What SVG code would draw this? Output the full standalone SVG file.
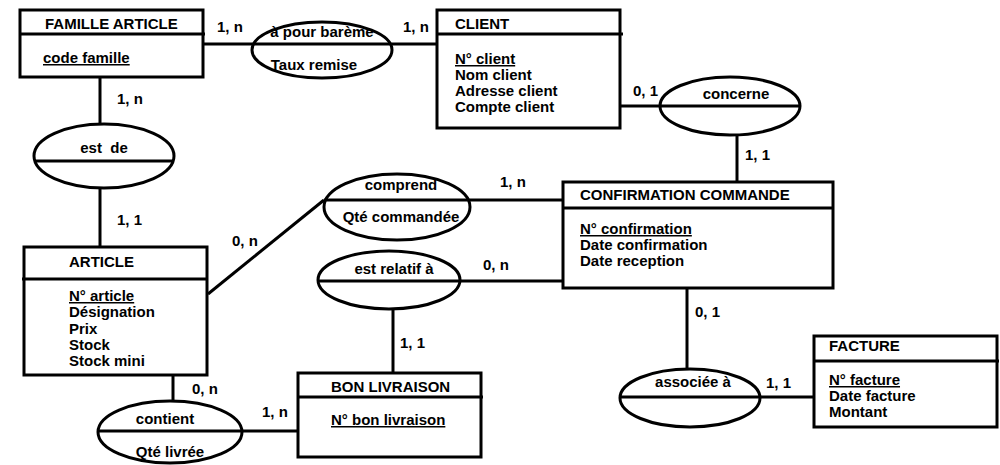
<svg xmlns="http://www.w3.org/2000/svg" width="1000" height="465" viewBox="0 0 1000 465">
<style>
rect,ellipse{fill:#fff;stroke:#000;stroke-width:3}
rect.bg{stroke:none}
line{stroke:#000;stroke-width:3}
text{font-family:"Liberation Sans",Arial,sans-serif;font-weight:bold;font-size:15px;fill:#000}
.c{text-anchor:middle}
.u{text-decoration:underline}
</style>
<rect class="bg" width="1000" height="465"/>
<g id="connectors">
<line x1="203" y1="44" x2="252" y2="44"/>
<line x1="392" y1="44" x2="437" y2="44"/>
<line x1="100" y1="77" x2="100" y2="124"/>
<line x1="100" y1="188" x2="100" y2="247"/>
<line x1="208" y1="294" x2="324" y2="200"/>
<line x1="470" y1="200" x2="563" y2="200"/>
<line x1="620" y1="106" x2="660" y2="106"/>
<line x1="737" y1="135" x2="737" y2="182"/>
<line x1="460" y1="281" x2="563" y2="281"/>
<line x1="393" y1="309" x2="393" y2="373"/>
<line x1="173" y1="375" x2="173" y2="401"/>
<line x1="242" y1="431" x2="298" y2="431"/>
<line x1="687" y1="288" x2="687" y2="369"/>
<line x1="760" y1="397" x2="814" y2="397"/>
<text x="217" y="32">1, n</text>
<text x="403" y="32">1, n</text>
<text x="117" y="104">1, n</text>
<text x="117" y="225">1, 1</text>
<text x="232" y="246">0, n</text>
<text x="500" y="187">1, n</text>
<text x="633" y="96">0, 1</text>
<text x="745" y="160">1, 1</text>
<text x="483" y="270">0, n</text>
<text x="400" y="348">1, 1</text>
<text x="192" y="394">0, n</text>
<text x="262" y="417">1, n</text>
<text x="695" y="317">0, 1</text>
<text x="766" y="388">1, 1</text>
</g>
<g id="famille-article">
<rect x="20" y="10" width="183" height="67"/>
<line x1="20" y1="34" x2="205" y2="34"/>
<text x="45" y="29">FAMILLE ARTICLE</text>
<text x="43" y="63" class="u">code famille</text>
</g>
<g id="a-pour-bareme">
<ellipse cx="322" cy="50" rx="70" ry="28"/>
<line x1="252" y1="44" x2="392" y2="44"/>
<text x="322" y="37" class="c">à pour barème</text>
<text x="314" y="70" class="c">Taux remise</text>
</g>
<g id="client">
<rect x="437" y="10" width="183" height="118"/>
<line x1="437" y1="34" x2="623" y2="34"/>
<text x="455" y="29">CLIENT</text>
<text x="455" y="64" class="u">N° client</text>
<text x="455" y="80">Nom client</text>
<text x="455" y="96">Adresse client</text>
<text x="455" y="112">Compte client</text>
</g>
<g id="concerne">
<ellipse cx="730" cy="106" rx="70" ry="29"/>
<line x1="660" y1="106" x2="800" y2="106"/>
<text x="736" y="99" class="c">concerne</text>
</g>
<g id="est-de">
<ellipse cx="104" cy="156" rx="70" ry="32"/>
<line x1="34" y1="161" x2="174" y2="161"/>
<text x="104" y="153" class="c" xml:space="preserve">est  de</text>
</g>
<g id="comprend">
<ellipse cx="397" cy="207" rx="73" ry="33"/>
<line x1="324" y1="200" x2="470" y2="200"/>
<text x="401" y="190" class="c">comprend</text>
<text x="401" y="222" class="c">Qté commandée</text>
</g>
<g id="confirmation-commande">
<rect x="563" y="182" width="270" height="106"/>
<line x1="563" y1="208" x2="833" y2="208"/>
<text x="580" y="200">CONFIRMATION COMMANDE</text>
<text x="580" y="234" class="u">N° confirmation</text>
<text x="580" y="250">Date confirmation</text>
<text x="580" y="266">Date reception</text>
</g>
<g id="article">
<rect x="24" y="247" width="183" height="128"/>
<line x1="22" y1="279" x2="207" y2="279"/>
<text x="69" y="267">ARTICLE</text>
<text x="69" y="301" class="u">N° article</text>
<text x="69" y="317">Désignation</text>
<text x="69" y="334">Prix</text>
<text x="69" y="350">Stock</text>
<text x="69" y="366">Stock mini</text>
</g>
<g id="est-relatif-a">
<ellipse cx="389" cy="280" rx="71" ry="29"/>
<line x1="318" y1="281" x2="460" y2="281"/>
<text x="394" y="274" class="c">est relatif à</text>
</g>
<g id="bon-livraison">
<rect x="298" y="373" width="183" height="84"/>
<line x1="298" y1="397" x2="483" y2="397"/>
<text x="331" y="392">BON LIVRAISON</text>
<text x="331" y="425" class="u">N° bon livraison</text>
</g>
<g id="contient">
<ellipse cx="170" cy="432" rx="72" ry="31"/>
<line x1="98" y1="431" x2="242" y2="431"/>
<text x="165" y="424" class="c">contient</text>
<text x="170" y="457" class="c">Qté livrée</text>
</g>
<g id="associee-a">
<ellipse cx="690" cy="398" rx="70" ry="29"/>
<line x1="620" y1="397" x2="760" y2="397"/>
<text x="693" y="387" class="c">associée à</text>
</g>
<g id="facture">
<rect x="814" y="336" width="183" height="91"/>
<line x1="814" y1="361" x2="999" y2="361"/>
<text x="829" y="351">FACTURE</text>
<text x="829" y="385" class="u">N° facture</text>
<text x="829" y="401">Date facture</text>
<text x="829" y="417">Montant</text>
</g>
</svg>
